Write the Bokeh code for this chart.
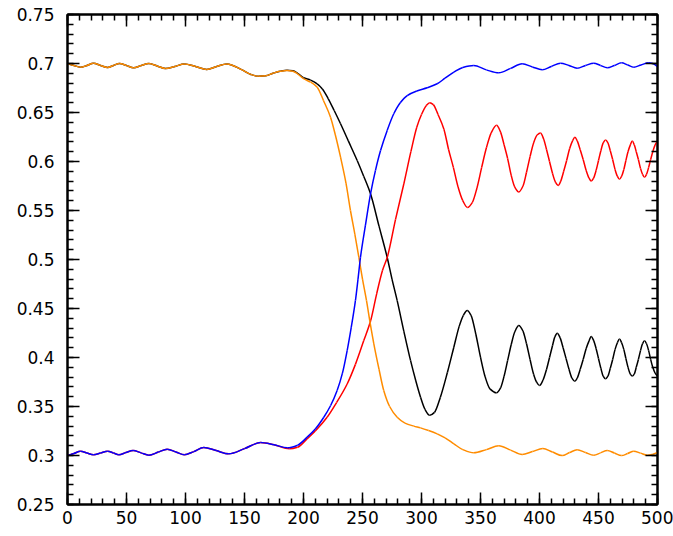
from bokeh.plotting import figure
from bokeh.models import Range1d, LinearAxis, SingleIntervalTicker, CustomJSTickFormatter, ColumnDataSource
from bokeh.embed import file_html
from bokeh.resources import INLINE

# ---------------- data ----------------
orange_x = [0, 5.5, 11, 16.5, 22, 28, 34, 39, 44, 50, 56, 62.5, 69, 76, 83, 91, 99, 108.5, 118, 126.5,
            135, 148, 155, 162, 168, 174, 180, 186, 191, 195, 200, 206, 211.6, 217, 222.9, 227, 231.4,
            236, 239.8, 243.5, 246.9, 250, 253.4, 256.5, 259.6, 264, 268, 273, 279.4, 286, 293.5, 299.2,
            306, 313.3, 320, 327.4, 335, 344.3, 355, 365.5, 375.5, 385.3, 394, 402.8, 411, 419.2, 425.5,
            431.9, 439, 446, 451.7, 457.4, 463.5, 469.5, 474.7, 479.9, 485.6, 491.3, 495.5, 500]
orange_y = [0.700, 0.698, 0.6962, 0.698, 0.7003, 0.698, 0.696, 0.698, 0.700, 0.698, 0.6956, 0.698, 0.700,
            0.6975, 0.695, 0.697, 0.6995, 0.697, 0.694, 0.697, 0.6995, 0.6935, 0.689, 0.687, 0.6875,
            0.690, 0.692, 0.6929, 0.692, 0.6895, 0.6845, 0.681, 0.6758, 0.662, 0.6452, 0.627, 0.6044,
            0.578, 0.550, 0.526, 0.5023, 0.480, 0.458, 0.435, 0.414, 0.388, 0.3663, 0.350, 0.339, 0.333,
            0.330, 0.3282, 0.3255, 0.3221, 0.318, 0.3119, 0.306, 0.3027, 0.306, 0.3099, 0.3055, 0.301,
            0.304, 0.3071, 0.3035, 0.2999, 0.303, 0.3058, 0.303, 0.3003, 0.3027, 0.3051, 0.3025, 0.2999,
            0.302, 0.3044, 0.3024, 0.3003, 0.301, 0.303]

black_x = [0, 5.5, 11, 16.5, 22, 28, 34, 39, 44, 50, 56, 62.5, 69, 76, 83, 91, 99, 108.5, 118, 126.5,
           135, 148, 155, 162, 168, 174, 180, 186, 191, 195, 200, 206, 211.6, 216, 221, 226, 231.4, 238,
           245.5, 251, 256.8, 264, 270.9, 275, 279.4, 285, 290.7, 295, 299.2, 303, 307, 311, 316, 322,
           327.4, 332, 335.5, 338.7, 342, 346, 350, 354, 358, 363.6, 367, 370, 373, 376, 379, 382.5, 386,
           389, 392, 395, 397.5, 400, 403, 406, 408.5, 411, 413, 415, 417.5, 420, 422.5, 425, 427.5,
           429.9, 432, 434.5, 437, 439.5, 442, 443.8, 446, 448, 450, 452, 454, 455.9, 458, 460, 462, 464,
           466, 467.8, 469.6, 471.5, 473.2, 475, 477, 478.6, 480.3, 482, 483.8, 485.6, 487.3, 489, 490.7,
           492.5, 494.2, 496, 498, 500]
black_y = [0.700, 0.698, 0.6962, 0.698, 0.7003, 0.698, 0.696, 0.698, 0.700, 0.698, 0.6956, 0.698, 0.700,
           0.6975, 0.695, 0.697, 0.6995, 0.697, 0.694, 0.697, 0.6995, 0.6935, 0.689, 0.687, 0.6875, 0.690,
           0.692, 0.6932, 0.6925, 0.690, 0.6855, 0.683, 0.6793, 0.674, 0.664, 0.652, 0.6385, 0.621, 0.601,
           0.585, 0.567, 0.534, 0.5023, 0.480, 0.458, 0.427, 0.397, 0.377, 0.3595, 0.347, 0.341, 0.344,
           0.3595, 0.385, 0.4105, 0.432, 0.443, 0.448, 0.443, 0.424, 0.4003, 0.380, 0.368, 0.364, 0.369,
           0.381, 0.397, 0.413, 0.426, 0.4327, 0.427, 0.414, 0.398, 0.383, 0.375, 0.3714, 0.377, 0.388,
           0.400, 0.412, 0.421, 0.4248, 0.420, 0.410, 0.399, 0.388, 0.379, 0.3758, 0.379, 0.388, 0.398,
           0.409, 0.417, 0.4214, 0.417, 0.409, 0.399, 0.389, 0.381, 0.3782, 0.381, 0.389, 0.398, 0.408,
           0.415, 0.419, 0.415, 0.408, 0.399, 0.390, 0.383, 0.381, 0.383, 0.390, 0.398, 0.407, 0.414,
           0.417, 0.414, 0.407, 0.398, 0.390, 0.384, 0.381]

blue_x = [0, 5.5, 11, 16.5, 22, 28, 34, 39, 43.5, 49.5, 55.6, 62.3, 69, 77, 84.5, 92, 99, 107, 115.5, 126,
          136.7, 150, 163.6, 175, 186.2, 195, 203.1, 210, 217.2, 223, 228.5, 233, 237, 240.5, 244, 246.2,
          248.3, 252.5, 256.8, 261, 265.3, 271, 276.5, 282, 287.9, 296, 304.8, 313.3, 320, 327.4, 335,
          344.3, 355, 365.5, 375.5, 385.3, 394, 402.3, 410, 417.8, 425, 431.9, 439, 446, 451.7, 457.4,
          463.5, 469.5, 474.7, 479.9, 486, 492.6, 496, 500]
blue_y = [0.300, 0.302, 0.3044, 0.3025, 0.3007, 0.3025, 0.3044, 0.3025, 0.3007, 0.303, 0.3051, 0.3027,
          0.3003, 0.3035, 0.3065, 0.3035, 0.3007, 0.304, 0.3082, 0.305, 0.3017, 0.307, 0.3133, 0.311,
          0.3078, 0.3105, 0.3187, 0.327, 0.339, 0.351, 0.3663, 0.384, 0.4071, 0.431, 0.458, 0.480, 0.5023,
          0.535, 0.567, 0.591, 0.6112, 0.632, 0.6487, 0.660, 0.6673, 0.672, 0.6752, 0.6793, 0.685, 0.6911,
          0.696, 0.698, 0.6935, 0.6905, 0.695, 0.6997, 0.6965, 0.6936, 0.697, 0.7003, 0.698, 0.6952, 0.698,
          0.7003, 0.698, 0.6956, 0.698, 0.7007, 0.6985, 0.6962, 0.6985, 0.7007, 0.700, 0.697]

red_x = [0, 5.5, 11, 16.5, 22, 28, 34, 39, 43.5, 49.5, 55.6, 62.3, 69, 77, 84.5, 92, 99, 107, 115.5, 126,
         136.7, 150, 163.6, 175, 188, 195, 203, 210, 220, 228, 237, 244, 251, 257, 262, 267, 271, 278,
         285, 291, 296, 300, 304, 307, 310, 314, 319, 323, 327, 331, 335, 339, 343, 347, 351, 355, 359,
         363.6, 367, 370, 373, 376, 379, 382.5, 386, 389, 392, 395, 398, 400.8, 403.5, 406, 408.5, 411,
         413.5, 415.8, 418, 420.5, 423, 425.5, 428, 430, 432, 434.5, 437, 439.5, 442, 443.8, 445.8, 448,
         450, 452, 454, 456, 458, 460, 462, 464, 466, 467.8, 469.6, 471.5, 473.2, 475, 477, 478.6, 480.3,
         482, 483.8, 485.6, 487.3, 489, 490.7, 492.5, 494.2, 496, 498, 500]
red_y = [0.300, 0.302, 0.3044, 0.3025, 0.3007, 0.3025, 0.3044, 0.3025, 0.3007, 0.303, 0.3051, 0.3027,
         0.3003, 0.3035, 0.3065, 0.3035, 0.3007, 0.304, 0.3082, 0.305, 0.3017, 0.307, 0.3133, 0.311, 0.307,
         0.3085, 0.317, 0.325, 0.339, 0.354, 0.373, 0.393, 0.417, 0.438, 0.465, 0.489, 0.5023, 0.541,
         0.577, 0.610, 0.635, 0.648, 0.657, 0.660, 0.658, 0.648, 0.633, 0.612, 0.594, 0.574, 0.560, 0.553,
         0.558, 0.573, 0.594, 0.614, 0.629, 0.637, 0.630, 0.617, 0.603, 0.586, 0.574, 0.569, 0.575, 0.589,
         0.605, 0.619, 0.627, 0.629, 0.623, 0.612, 0.600, 0.588, 0.579, 0.5755, 0.580, 0.590, 0.601, 0.613,
         0.621, 0.6248, 0.621, 0.612, 0.602, 0.591, 0.583, 0.580, 0.583, 0.591, 0.601, 0.611, 0.619, 0.622,
         0.619, 0.611, 0.602, 0.592, 0.585, 0.582, 0.585, 0.592, 0.601, 0.610, 0.617, 0.621, 0.617, 0.610,
         0.602, 0.593, 0.587, 0.584, 0.587, 0.594, 0.602, 0.610, 0.617, 0.621]

x_tick_interval = 50
y_tick_interval = 0.05


def smooth_segments(xs, ys):
    """Render a polyline as smooth (monotone cubic) Bezier segments through the given points."""
    n = len(xs)
    h = [xs[i + 1] - xs[i] for i in range(n - 1)]
    d = [(ys[i + 1] - ys[i]) / h[i] for i in range(n - 1)]
    m = [0.0] * n
    m[0] = d[0]
    m[-1] = d[-1]
    for k in range(1, n - 1):
        if d[k - 1] * d[k] <= 0:
            m[k] = 0.0
        else:
            w1 = 2 * h[k] + h[k - 1]
            w2 = h[k] + 2 * h[k - 1]
            m[k] = (w1 + w2) / (w1 / d[k - 1] + w2 / d[k])
    src = dict(x0=[], y0=[], x1=[], y1=[], cx0=[], cy0=[], cx1=[], cy1=[])
    for i in range(n - 1):
        src["x0"].append(xs[i]); src["y0"].append(ys[i])
        src["x1"].append(xs[i + 1]); src["y1"].append(ys[i + 1])
        src["cx0"].append(xs[i] + h[i] / 3); src["cy0"].append(ys[i] + m[i] * h[i] / 3)
        src["cx1"].append(xs[i + 1] - h[i] / 3); src["cy1"].append(ys[i + 1] - m[i + 1] * h[i] / 3)
    return ColumnDataSource(src)


# ---------------- figure ----------------
p = figure(width=673, height=532, output_backend="svg", toolbar_location=None,
           x_range=Range1d(0, 500), y_range=Range1d(0.25, 0.75),
           min_border_left=67, min_border_right=16, min_border_top=14, min_border_bottom=28,
           background_fill_color="white", border_fill_color="white")
p.xgrid.visible = False
p.ygrid.visible = False
p.outline_line_color = "black"
p.outline_line_width = 2

FONT = "DejaVu Sans"
FS = "17px"


def style_axis(ax, show_labels, standoff):
    ax.axis_line_color = "black"
    ax.axis_line_width = 2
    ax.major_tick_line_color = "black"
    ax.major_tick_line_width = 1.5
    ax.minor_tick_line_color = "black"
    ax.minor_tick_line_width = 1.5
    ax.major_tick_in = 12
    ax.major_tick_out = 0
    ax.minor_tick_in = 6
    ax.minor_tick_out = 0
    ax.major_label_text_font = FONT
    ax.major_label_text_color = "black" if show_labels else None
    ax.major_label_text_font_size = FS if show_labels else "1px"
    ax.major_label_standoff = standoff


fmt = CustomJSTickFormatter(code="return String(parseFloat(tick.toFixed(3)));")

p.xaxis.ticker = SingleIntervalTicker(interval=x_tick_interval, num_minor_ticks=5)
p.yaxis.ticker = SingleIntervalTicker(interval=y_tick_interval, num_minor_ticks=5)
p.xaxis.formatter = fmt
p.yaxis.formatter = fmt
style_axis(p.xaxis[0], True, 6)
style_axis(p.yaxis[0], True, 13)

top = LinearAxis(ticker=SingleIntervalTicker(interval=x_tick_interval, num_minor_ticks=5))
right = LinearAxis(ticker=SingleIntervalTicker(interval=y_tick_interval, num_minor_ticks=5))
style_axis(top, False, 0)
style_axis(right, False, 0)
p.add_layout(top, "above")
p.add_layout(right, "right")

for xs, ys, col in [(black_x, black_y, "black"), (red_x, red_y, "#ff0000"),
                    (orange_x, orange_y, "#ff8c00"), (blue_x, blue_y, "#0000ff")]:
    p.bezier(x0="x0", y0="y0", x1="x1", y1="y1", cx0="cx0", cy0="cy0", cx1="cx1", cy1="cy1",
             source=smooth_segments(xs, ys), line_color=col, line_width=1.5)

open("out.html", "w").write(file_html(p, INLINE))
